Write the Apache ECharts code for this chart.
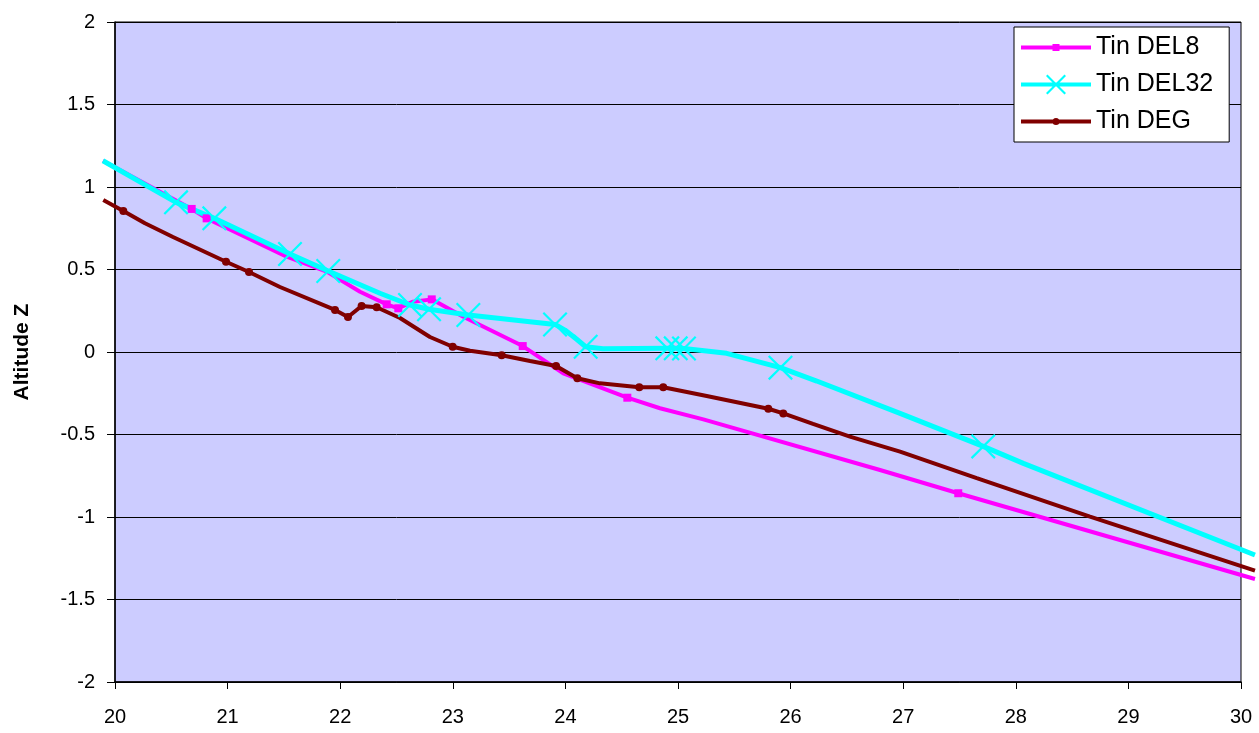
<!DOCTYPE html>
<html>
<head>
<meta charset="utf-8">
<script src="https://cdn.jsdelivr.net/npm/echarts@6/dist/echarts.min.js"></script>
<style>
html,body{margin:0;padding:0;background:#fff;}
#chart{width:1259px;height:733px;}
</style>
</head>
<body>
<div id="chart"></div>
<script>
// ---- data ----
const seriesNames = ['Tin DEL8', 'Tin DEL32', 'Tin DEG'];
const xTicks = [20, 21, 22, 23, 24, 25, 26, 27, 28, 29, 30];
const yTicks = [-2, -1.5, -1, -0.5, 0, 0.5, 1, 1.5, 2];

const del8X = [19.893, 20.681, 20.814, 21.525, 21.880, 22.176, 22.413, 22.516, 22.647, 22.813, 23.093, 23.621, 23.981, 24.550, 24.840, 25.225, 26.794, 27.489, 30.124];
const del8Y = [1.159, 0.867, 0.810, 0.578, 0.487, 0.365, 0.289, 0.265, 0.305, 0.319, 0.214, 0.036, -0.129, -0.277, -0.341, -0.408, -0.715, -0.856, -1.376];
const del8Mark = [0, 1, 1, 0, 0, 0, 1, 1, 0, 1, 0, 1, 0, 1, 0, 0, 0, 1, 0];

const del32X = [19.893, 20.542, 20.882, 21.554, 21.894, 22.353, 22.620, 22.789, 23.138, 23.908, 23.996, 24.100, 24.180, 24.334, 24.905, 24.980, 25.053, 25.432, 25.910, 26.232, 26.972, 27.711, 28.067, 30.124];
const del32Y = [1.159, 0.907, 0.810, 0.594, 0.491, 0.356, 0.285, 0.259, 0.224, 0.167, 0.133, 0.077, 0.032, 0.020, 0.022, 0.022, 0.021, -0.008, -0.095, -0.176, -0.372, -0.572, -0.675, -1.230];
const del32Mark = [0, 1, 1, 1, 1, 0, 1, 1, 1, 1, 0, 0, 1, 0, 1, 1, 1, 0, 1, 0, 0, 1, 0, 0];

const degX = [19.896, 20.074, 20.266, 20.515, 20.986, 21.190, 21.465, 21.954, 22.069, 22.190, 22.324, 22.531, 22.797, 22.999, 23.153, 23.434, 23.686, 23.917, 24.106, 24.307, 24.656, 24.869, 25.255, 25.802, 25.935, 26.199, 26.527, 26.972, 27.653, 28.659, 30.124];
const degY = [0.921, 0.855, 0.780, 0.697, 0.547, 0.485, 0.394, 0.255, 0.212, 0.279, 0.271, 0.206, 0.091, 0.032, 0.008, -0.020, -0.055, -0.085, -0.159, -0.190, -0.214, -0.214, -0.267, -0.344, -0.372, -0.436, -0.513, -0.604, -0.765, -0.998, -1.325];
const degMark = [0, 1, 0, 0, 1, 1, 0, 1, 1, 1, 1, 0, 0, 1, 0, 1, 0, 1, 1, 0, 1, 1, 0, 1, 1, 0, 0, 0, 0, 0, 0];

// ---- build ----
function build(xs, ys, marks) {
  return xs.map(function (x, i) {
    return marks[i] ? { value: [x, ys[i]] } : { value: [x, ys[i]], symbol: 'none' };
  });
}
const font = '"Liberation Sans", Arial, sans-serif';
const xSym = 'path://M0,1.5 L1.5,0 L12,10.5 L22.5,0 L24,1.5 L13.5,12 L24,22.5 L22.5,24 L12,13.5 L1.5,24 L0,22.5 L10.5,12 Z';

// legend icons: line sample with the series marker on it
const iconDel8 = 'path://M0,1.5 L31.5,1.5 L31.5,0 L38.5,0 L38.5,1.5 L70,1.5 L70,5.5 L38.5,5.5 L38.5,7 L31.5,7 L31.5,5.5 L0,5.5 Z';
const iconDel32 = 'path://M0,8 L70,8 L70,12 L0,12 Z M25,1.5 L26.5,0 L35,8.5 L43.5,0 L45,1.5 L36.5,10 L45,18.5 L43.5,20 L35,11.5 L26.5,20 L25,18.5 L33.5,10 Z';
const iconDeg = 'path://M0,1.5 L70,1.5 L70,5.5 L0,5.5 Z M31.5,3.5 A3.5,3.5 0 1 1 38.5,3.5 A3.5,3.5 0 1 1 31.5,3.5 Z';

// plot-area geometry (the lines in the original run slightly past the frame on both sides)
const plotLeft = 115, plotRight = 18, plotTop = 22, plotBottom = 51;
const chartW = 1259;
const pxPerUnit = (chartW - plotLeft - plotRight) / (xTicks[xTicks.length - 1] - xTicks[0]);
const overLeft = 12, overRight = 14;
const xMinWide = xTicks[0] - overLeft / pxPerUnit;
const xMaxWide = xTicks[xTicks.length - 1] + overRight / pxPerUnit;

const chart = echarts.init(document.getElementById('chart'), null, { renderer: 'canvas' });
chart.setOption({
  animation: false,
  backgroundColor: '#ffffff',
  grid: [
    {
      left: plotLeft, right: plotRight, top: plotTop, bottom: plotBottom,
      show: true, backgroundColor: '#CCCCFF', borderColor: '#000000', borderWidth: 1
    },
    {
      left: plotLeft - overLeft, right: plotRight - overRight, top: plotTop, bottom: plotBottom,
      show: false
    }
  ],
  legend: {
    orient: 'vertical',
    left: 1014, top: 27,
    padding: [8, 16, 8, 7],
    itemGap: 12,
    itemWidth: 70, itemHeight: 20,
    symbolKeepAspect: true,
    backgroundColor: '#ffffff',
    borderColor: '#000000', borderWidth: 1,
    textStyle: { fontSize: 25, color: '#000000', fontFamily: font },
    data: [
      { name: seriesNames[0], icon: iconDel8 },
      { name: seriesNames[1], icon: iconDel32 },
      { name: seriesNames[2], icon: iconDeg }
    ]
  },
  xAxis: [
    {
      gridIndex: 0,
      type: 'value', min: xTicks[0], max: xTicks[xTicks.length - 1], interval: 1,
      axisLine: { show: true, onZero: false, lineStyle: { color: '#000000', width: 1.5 } },
      axisTick: { show: true, length: 7, lineStyle: { color: '#000000' } },
      axisLabel: { fontSize: 20, color: '#000000', fontFamily: font, margin: 25 },
      splitLine: { show: false }
    },
    {
      gridIndex: 1, type: 'value', min: xMinWide, max: xMaxWide, show: false,
      splitLine: { show: false }
    }
  ],
  yAxis: [
    {
      gridIndex: 0,
      type: 'value', min: yTicks[0], max: yTicks[yTicks.length - 1], interval: 0.5,
      name: 'Altitude Z', nameLocation: 'middle', nameGap: 82, nameRotate: 90,
      nameTextStyle: { fontSize: 21, fontWeight: 'bold', color: '#000000', fontFamily: font },
      axisLine: { show: true, onZero: false, lineStyle: { color: '#000000', width: 1.5 } },
      axisTick: { show: true, length: 8, lineStyle: { color: '#000000' } },
      axisLabel: { fontSize: 20, color: '#000000', fontFamily: font, margin: 20 },
      splitLine: { show: true, lineStyle: { color: '#000000', width: 1 } }
    },
    {
      gridIndex: 1, type: 'value', min: yTicks[0], max: yTicks[yTicks.length - 1], show: false,
      splitLine: { show: false }
    }
  ],
  series: [
    {
      name: seriesNames[0], type: 'line', xAxisIndex: 1, yAxisIndex: 1, clip: false, showSymbol: true,
      symbol: 'rect', symbolSize: 8,
      lineStyle: { color: '#FF00FF', width: 4 },
      itemStyle: { color: '#FF00FF' },
      data: build(del8X, del8Y, del8Mark)
    },
    {
      name: seriesNames[1], type: 'line', xAxisIndex: 1, yAxisIndex: 1, clip: false, showSymbol: true,
      symbol: xSym, symbolSize: 25,
      lineStyle: { color: '#00FFFF', width: 5 },
      itemStyle: { color: '#00FFFF' },
      data: build(del32X, del32Y, del32Mark)
    },
    {
      name: seriesNames[2], type: 'line', xAxisIndex: 1, yAxisIndex: 1, clip: false, showSymbol: true,
      symbol: 'circle', symbolSize: 8,
      lineStyle: { color: '#800000', width: 4 },
      itemStyle: { color: '#800000' },
      data: build(degX, degY, degMark)
    }
  ]
});
</script>
</body>
</html>
